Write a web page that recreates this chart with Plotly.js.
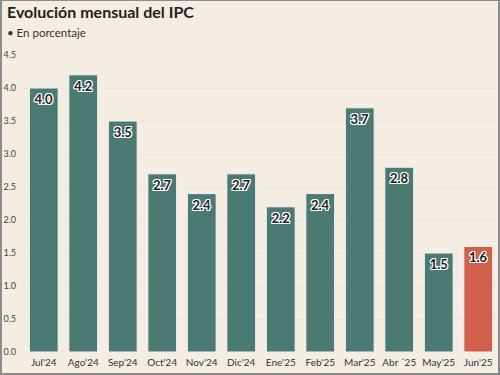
<!DOCTYPE html>
<html><head><meta charset="utf-8">
<script src="https://cdn.plot.ly/plotly-3.0.1.min.js"></script>
<style>
html,body{margin:0;padding:0;background:#f3ede3;}
#wrap{position:relative;width:500px;height:375px;}
#chart{width:500px;height:375px;}
#frame{position:absolute;left:0;top:0;width:500px;height:375px;box-sizing:border-box;border:2px solid #8c8c8c;border-top-width:1px;pointer-events:none;}
</style></head>
<body>
<div id="wrap"><div id="chart"></div><div id="frame"></div></div>
<script>
const categories = ["Jul'24","Ago'24","Sep'24","Oct'24","Nov'24","Dic'24","Ene'25","Feb'25","Mar'25","Abr \u00b425","May'25","Jun'25"];
const values = [4.0,4.2,3.5,2.7,2.4,2.7,2.2,2.4,3.7,2.8,1.5,1.6];
const yTicks = [0,0.5,1,1.5,2,2.5,3,3.5,4,4.5];
const baseColor = "#4b7a73";
const highlightColor = "#d0604d";
const colors = values.map((v,i)=> i===values.length-1 ? highlightColor : baseColor);
const trace = {
  type:'bar', x: categories, y: values,
  marker:{color:colors, line:{color:'#f7f3ec', width:1}},
  text: values.map(v=>v.toFixed(1)),
  textposition:'inside', insidetextanchor:'end', textangle:0, constraintext:'none',
  textfont:{family:'Lato, sans-serif', size:13, color:'#222', weight:700,
    shadow:'-1px -1px 0 #fff, 1px -1px 0 #fff, -1px 1px 0 #fff, 1px 1px 0 #fff, 0 -1px 0 #fff, 0 1px 0 #fff, -1px 0 0 #fff, 1px 0 0 #fff'},
  hoverinfo:'none', cliponaxis:false
};
const layout = {
  width:500, height:375,
  paper_bgcolor:'#f3ede3', plot_bgcolor:'#f3ede3',
  margin:{l:24, r:2, t:55, b:23},
  bargap:0.27,
  showlegend:false,
  font:{family:'Lato, sans-serif', color:'#333'},
  xaxis:{type:'category', tickfont:{size:10, color:'#333'}, ticks:'', showgrid:false, zeroline:false, showline:false, ticklabelstandoff:3},
  yaxis:{range:[0,4.5], tickvals:yTicks, ticktext:yTicks.map(v=>v.toFixed(1)), tickfont:{size:9, color:'#444'},
    showgrid:true, gridcolor:'#ece5d8', gridwidth:1, zeroline:false, showline:false, ticks:'', ticklabelstandoff:7},
  annotations:[
    {xref:'paper', yref:'paper', x:-0.04, y:1.145, xanchor:'left', yanchor:'middle', showarrow:false,
     text:'<b>Evolución mensual del IPC</b>', font:{size:16, color:'#222'}},
    {xref:'paper', yref:'paper', x:-0.04, y:1.077, xanchor:'left', yanchor:'middle', showarrow:false,
     text:'• En porcentaje', font:{size:11.5, color:'#333'}}
  ]
};
Plotly.newPlot('chart',[trace],layout,{staticPlot:true, displayModeBar:false});
</script>
</body></html>
